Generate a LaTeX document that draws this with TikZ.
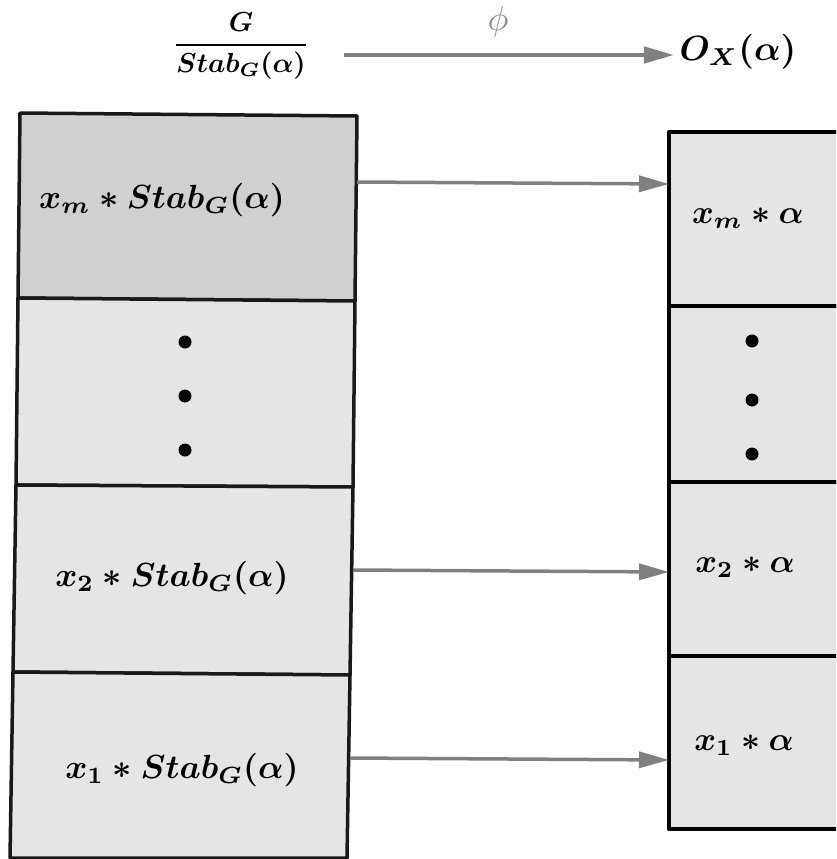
\documentclass[tikz,border=0pt]{standalone}
\usepackage{amsmath,bm}
\usetikzlibrary{arrows.meta}

\definecolor{cellgray}{HTML}{E5E5E5}
\definecolor{topgray}{HTML}{D0D0D0}
\definecolor{arrowgray}{HTML}{808080}
\definecolor{labelgray}{HTML}{8C8C8C}

\begin{document}
\begin{tikzpicture}[x=1pt,y=-1pt,
  cell/.style={draw=black!90, line width=3.5pt, fill=cellgray, line join=round},
  orbitcell/.style={cell, draw=black, line width=4.5pt},
  mapsto/.style={draw=arrowgray, line width=3.5pt, -{Triangle[length=30pt,width=16pt]}},
  lbl/.style={font=\boldmath, scale=3.35, inner sep=0pt},
  rlbl/.style={font=\boldmath, scale=3.3, inner sep=0pt},
  dot/.style={circle, fill=black, inner sep=0pt, minimum size=13pt}]

\useasboundingbox (0,0) rectangle (836,859);
\clip (0,0) rectangle (836,859);

% left column: cosets of the stabiliser
\coordinate (L0a) at (20,113);  \coordinate (L0b) at (357,116);
\coordinate (L1a) at (18,298);  \coordinate (L1b) at (355,301);
\coordinate (L2a) at (16,485);  \coordinate (L2b) at (353,487);
\coordinate (L3a) at (13,672);  \coordinate (L3b) at (350,675);
\coordinate (L4a) at (10,858);  \coordinate (L4b) at (347,858);

\filldraw[cell, fill=topgray] (L0a) -- (L0b) -- (L1b) -- (L1a) -- cycle;
\filldraw[cell] (L1a) -- (L1b) -- (L2b) -- (L2a) -- cycle;
\filldraw[cell] (L2a) -- (L2b) -- (L3b) -- (L3a) -- cycle;
\filldraw[cell] (L3a) -- (L3b) -- (L4b) -- (L4a) -- cycle;

% right column: the orbit
\coordinate (R0a) at (669,132);  \coordinate (R0b) at (860,132);
\coordinate (R1a) at (669,306);  \coordinate (R1b) at (860,306);
\coordinate (R2a) at (669,482);  \coordinate (R2b) at (860,482);
\coordinate (R3a) at (669,656);  \coordinate (R3b) at (860,656);
\coordinate (R4a) at (669,829);  \coordinate (R4b) at (860,829);

\filldraw[orbitcell] (R0a) -- (R0b) -- (R1b) -- (R1a) -- cycle;
\filldraw[orbitcell] (R1a) -- (R1b) -- (R2b) -- (R2a) -- cycle;
\filldraw[orbitcell] (R2a) -- (R2b) -- (R3b) -- (R3a) -- cycle;
\filldraw[orbitcell] (R3a) -- (R3b) -- (R4b) -- (R4a) -- cycle;

% labels
\node[lbl] (lm) at (162,200) {$x_m * Stab_G(\alpha)$};
\node[lbl] (l2) at (172,578) {$x_2 * Stab_G(\alpha)$};
\node[lbl] (l1) at (182,770) {$x_1 * Stab_G(\alpha)$};
\node[rlbl] (rm) at (748,218) {$x_m * \alpha$};
\node[rlbl] (r2) at (745,567) {$x_2 * \alpha$};
\node[rlbl] (r1) at (744,745) {$x_1 * \alpha$};

% ellipsis dots
\node[dot] (ld1) at (185,342) {};
\node[dot] (ld2) at (185,396) {};
\node[dot] (ld3) at (185,450) {};
\node[dot] (rd1) at (752,341) {};
\node[dot] (rd2) at (752,400) {};
\node[dot] (rd3) at (752,454) {};

% the bijection, row by row
\coordinate (am) at (357,182);  \coordinate (bm) at (669,184);
\coordinate (a2) at (353,570);  \coordinate (b2) at (669,572);
\coordinate (a1) at (350,758);  \coordinate (b1) at (669,760);
\draw[mapsto] (am) -- (bm);
\draw[mapsto] (a2) -- (b2);
\draw[mapsto] (a1) -- (b1);

% header
\node[font=\boldmath, scale=2.75, inner sep=0pt] (quot) at (241,46) {$\dfrac{G}{Stab_G(\alpha)}$};
\node[font=\boldmath, scale=3.5, inner sep=0pt] (orb) at (738,52) {$O_X(\alpha)$};
\node[scale=3.5, text=labelgray, inner sep=0pt] (phi) at (498,22) {$\phi$};
\coordinate (ha) at (344,55);
\draw[mapsto, line width=4.5pt] (ha) -- ([xshift=-5pt]orb.west |- ha);
\end{tikzpicture}
\end{document}
